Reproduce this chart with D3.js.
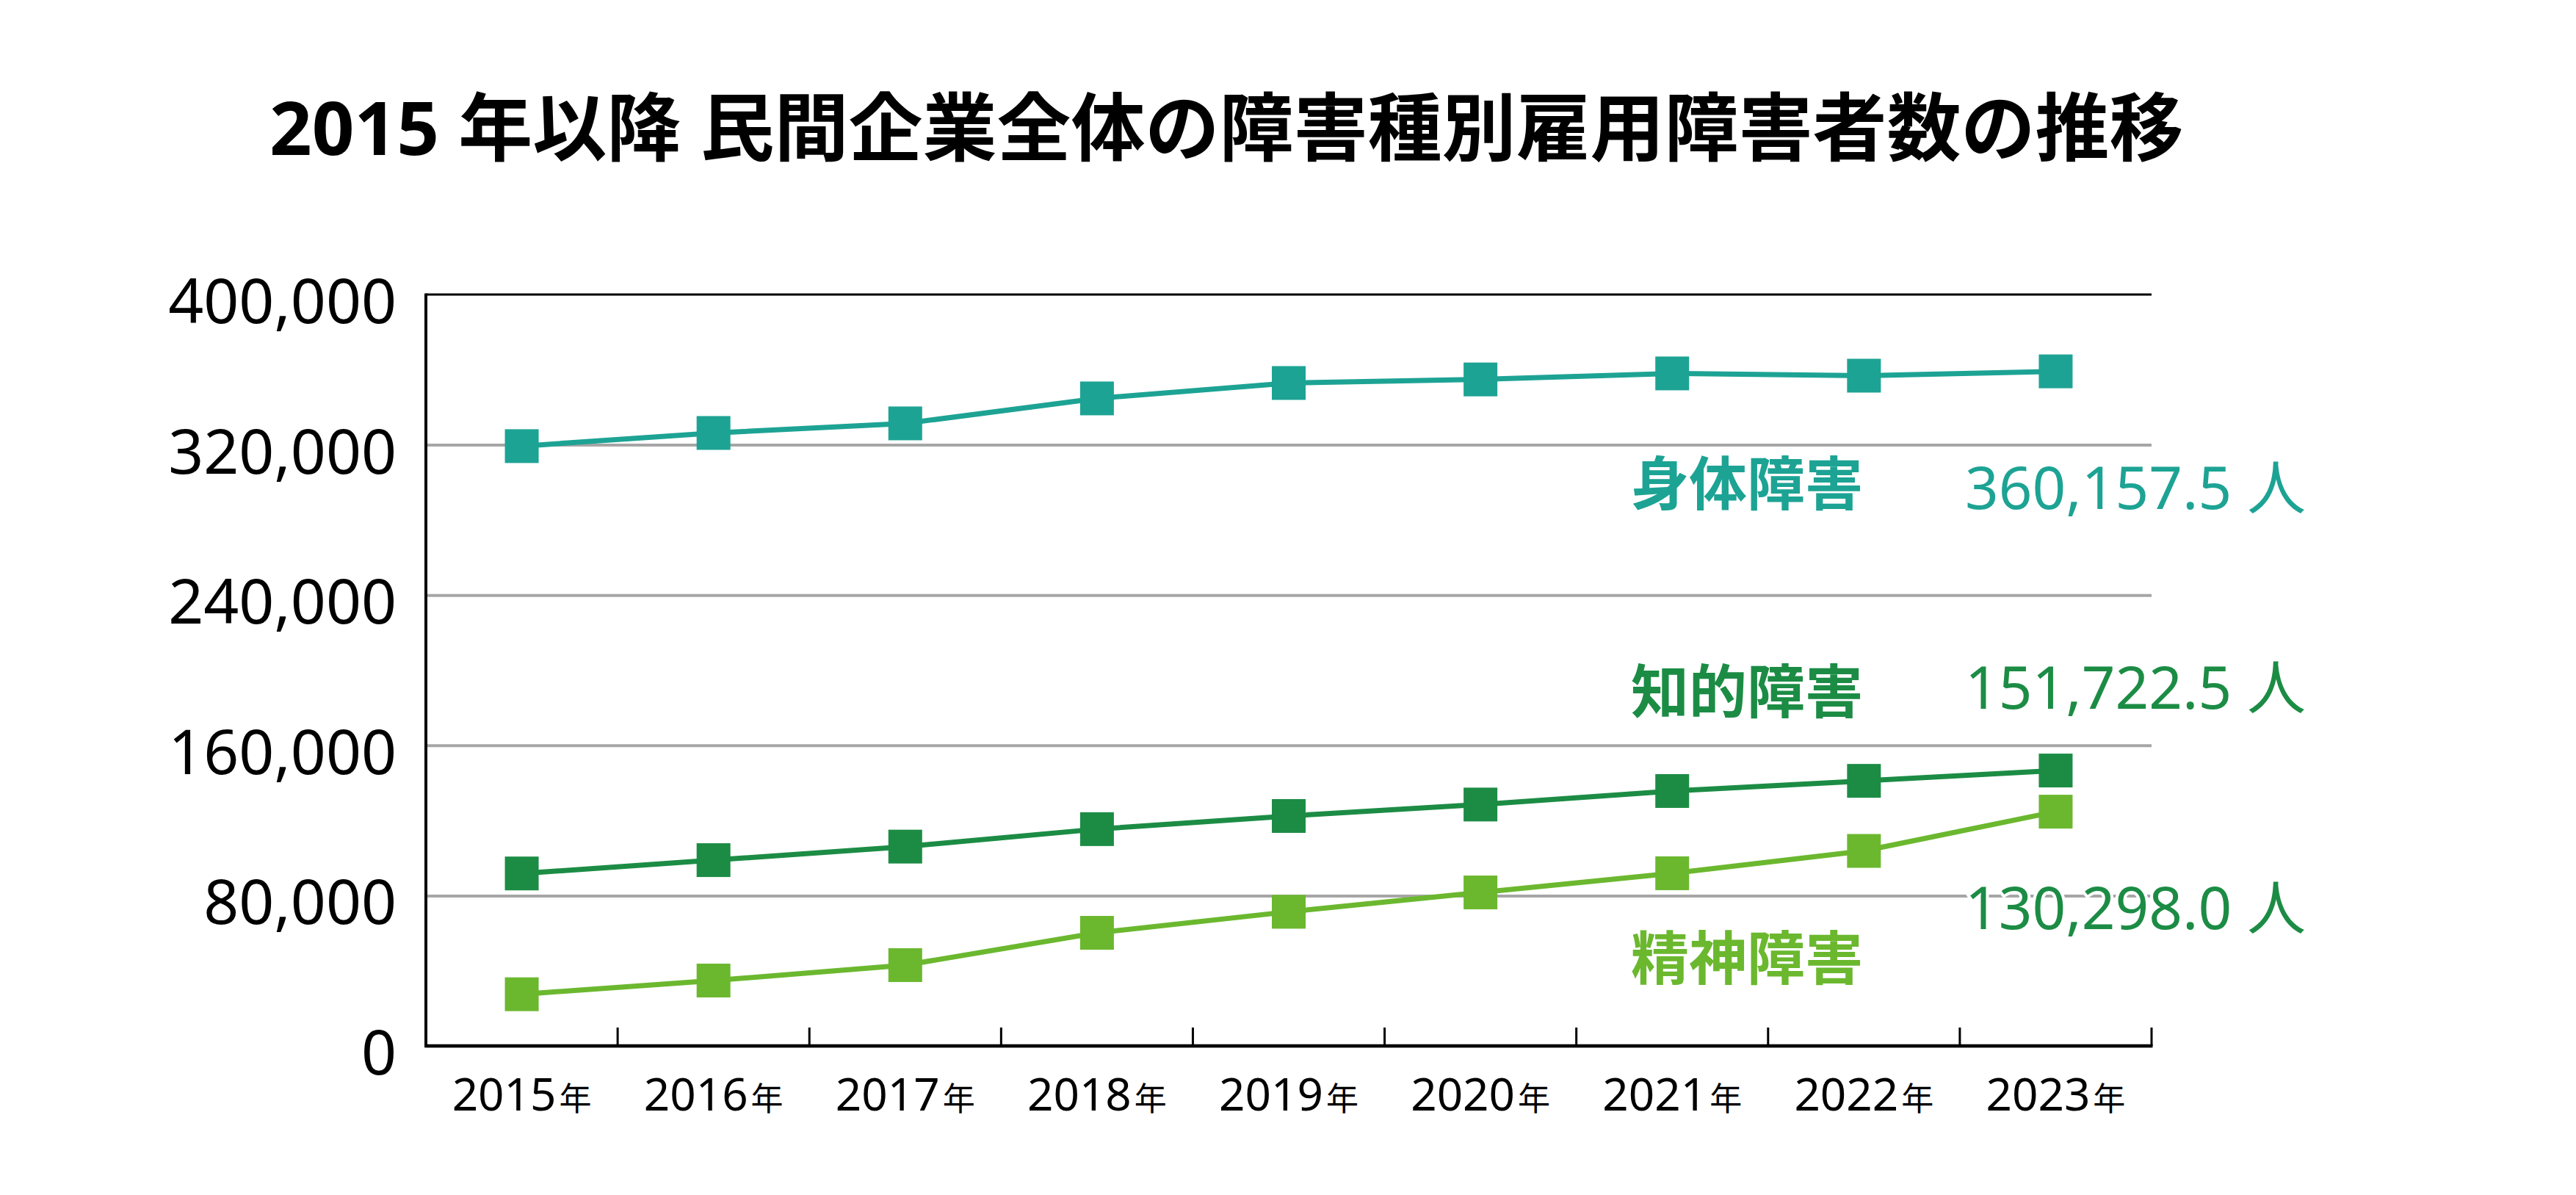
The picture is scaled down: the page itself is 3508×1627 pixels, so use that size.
<!DOCTYPE html>
<html>
<head>
<meta charset="utf-8">
<script src="https://cdn.jsdelivr.net/npm/d3@7"></script>
<style>
  body { margin: 0; background: #fff; }
  text { font-family: "Noto Sans", "Noto Sans CJK JP", sans-serif; }
</style>
</head>
<body>
<div id="chart"></div>
<script>
// data
var years = ["2015", "2016", "2017", "2018", "2019", "2020", "2021", "2022", "2023"];
var physical = [319300, 326300, 331400, 344700, 352900, 354800, 358000, 356800, 359100];
var intellectual = [91800, 98900, 106100, 115400, 122400, 128500, 135700, 141100, 146600];
var mental = [27500, 34800, 43000, 60200, 71400, 81700, 91900, 103800, 124700];
var yTicks = [0, 80000, 160000, 240000, 320000, 400000];
var seriesNames = ["身体障害", "知的障害", "精神障害"];
var latestLabels = ["360,157.5 人", "151,722.5 人", "130,298.0 人"];
var title = "2015 年以降 民間企業全体の障害種別雇用障害者数の推移";

var colors = ["#1da394", "#1c8c45", "#6bb82f"];

function drawChart() {
    var W = 3508, H = 1627;
    var margin = {left: 580, right: 2930, top: 401, bottom: 1424};

    var svg = d3.select("#chart").append("svg").attr("width", W).attr("height", H);

    var x = d3.scaleBand().domain(years).range([margin.left, margin.right]);
    var y = d3.scaleLinear().domain([0, 400000]).range([margin.bottom, margin.top]);
    var cx = d => x(d) + x.bandwidth() / 2;

    // title
    svg.append("text")
        .attr("x", 367).attr("y", 211)
        .attr("font-size", 101).attr("font-weight", 700)
        .attr("fill", "#000")
        .text(title);

    // gridlines
    svg.append("g")
        .attr("transform", `translate(${margin.left},0)`)
        .call(d3.axisLeft(y).tickValues(yTicks.slice(0, -1)).tickSize(-(margin.right - margin.left)).tickFormat(""))
        .call(g => g.select(".domain").remove())
        .call(g => g.selectAll(".tick line").attr("stroke", "#a6a6a6").attr("stroke-width", 4));

    // top border line at 400,000
    svg.append("line")
        .attr("x1", margin.left).attr("x2", margin.right)
        .attr("y1", y(400000)).attr("y2", y(400000))
        .attr("stroke", "#000").attr("stroke-width", 3);

    // y labels
    svg.append("g").selectAll("text")
        .data(yTicks)
        .enter().append("text")
        .attr("x", 540)
        .attr("y", d => y(d) + 39)
        .attr("text-anchor", "end")
        .attr("font-size", 84)
        .attr("fill", "#000")
        .text(d => d3.format(",")(d));

    // axes lines
    svg.append("line")
        .attr("x1", margin.left).attr("x2", margin.left)
        .attr("y1", margin.top - 1.5).attr("y2", margin.bottom + 2)
        .attr("stroke", "#000").attr("stroke-width", 4);
    svg.append("line")
        .attr("x1", margin.left - 2).attr("x2", margin.right + 1.5)
        .attr("y1", margin.bottom).attr("y2", margin.bottom)
        .attr("stroke", "#000").attr("stroke-width", 4.5);

    // x ticks at band edges, pointing up
    svg.append("g").selectAll("line")
        .data(years)
        .enter().append("line")
        .attr("x1", d => x(d) + x.bandwidth()).attr("x2", d => x(d) + x.bandwidth())
        .attr("y1", margin.bottom).attr("y2", margin.bottom - 25)
        .attr("stroke", "#000").attr("stroke-width", 3);

    // x labels
    var xl = svg.append("g").selectAll("text")
        .data(years)
        .enter().append("text")
        .attr("x", d => cx(d))
        .attr("y", 1512)
        .attr("text-anchor", "middle")
        .attr("fill", "#000");
    xl.append("tspan").attr("font-size", 62).text(d => d);
    xl.append("tspan").attr("font-size", 44).attr("dx", 4).text("年");

    // series
    var series = [physical, intellectual, mental];
    var line = d3.line().x((d, i) => cx(years[i])).y(d => y(d));

    series.forEach(function(vals, s) {
        svg.append("path")
            .datum(vals)
            .attr("d", line)
            .attr("fill", "none")
            .attr("stroke", colors[s])
            .attr("stroke-width", 7);

        svg.append("g").selectAll("rect")
            .data(vals)
            .enter().append("rect")
            .attr("x", (d, i) => cx(years[i]) - 23)
            .attr("y", d => y(d) - 23)
            .attr("width", 46).attr("height", 46)
            .attr("fill", colors[s]);
    });

    // series labels
    var nameY = [688, 971, 1334];
    var valueY = [693, 965, 1265];
    var valueColors = [colors[0], colors[1], colors[1]];

    seriesNames.forEach(function(name, s) {
        svg.append("text")
            .attr("x", 2221).attr("y", nameY[s])
            .attr("font-size", 79).attr("font-weight", 700)
            .attr("fill", colors[s])
            .text(name);

        svg.append("text")
            .attr("x", 2676).attr("y", valueY[s])
            .attr("font-size", 80)
            .attr("fill", valueColors[s])
            .attr("stroke", "#fff").attr("stroke-width", 8)
            .attr("paint-order", "stroke")
            .text(latestLabels[s]);
    });
}

drawChart();
</script>
</body>
</html>
